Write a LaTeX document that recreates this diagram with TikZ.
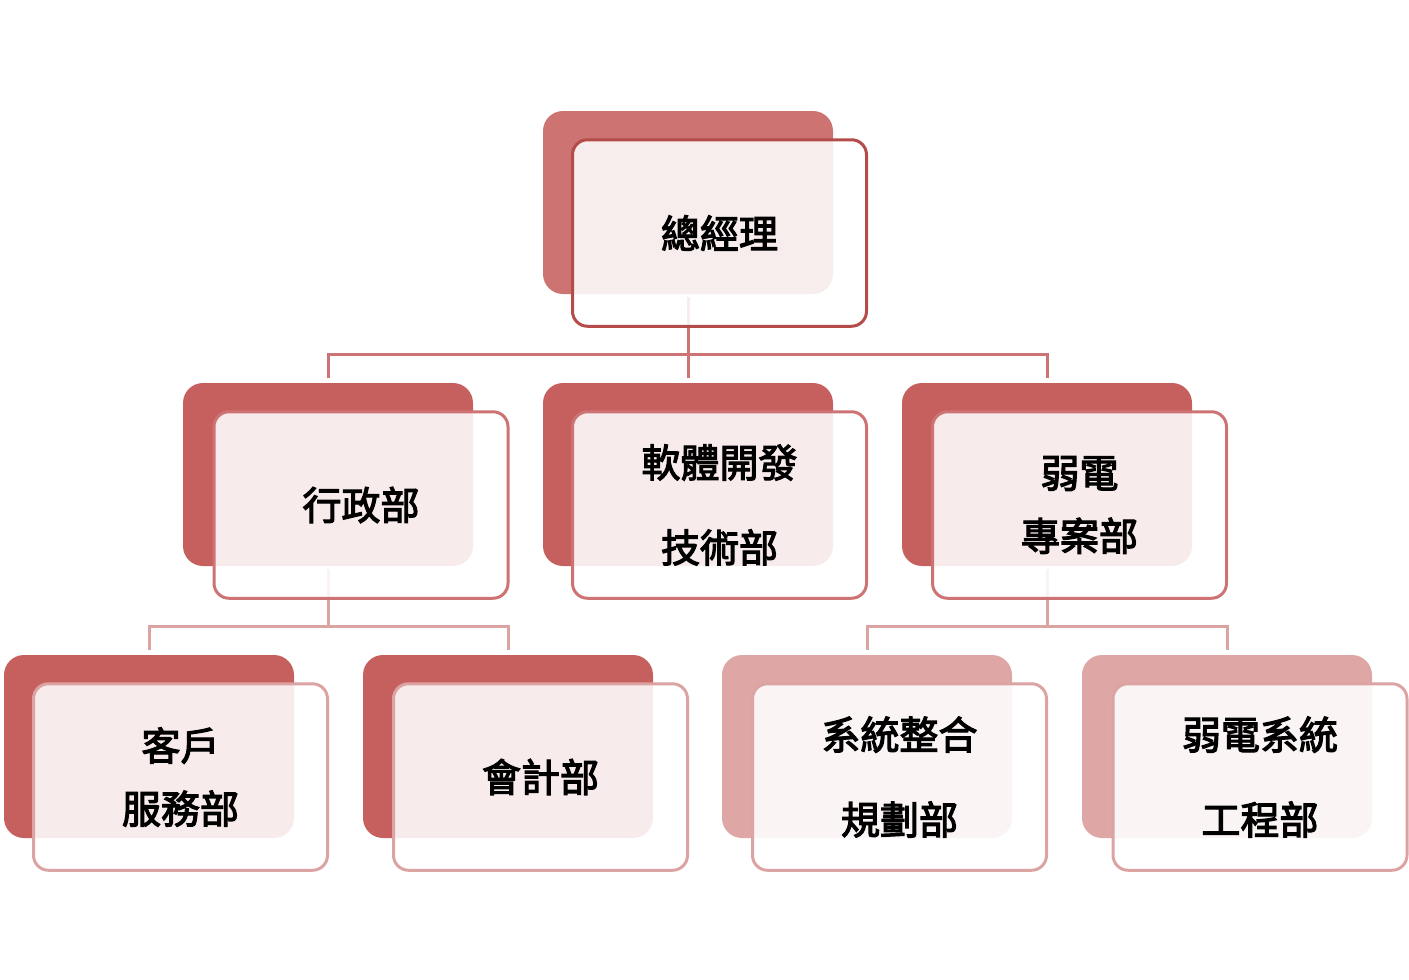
\documentclass[tikz,border=0pt]{standalone}
\usepackage{fontspec}
\newfontfamily\cjk[FakeBold=3]{Noto Sans CJK TC}
\usepackage{xcolor}

\definecolor{topback}{HTML}{CD7371}
\definecolor{topline}{HTML}{B44C4A}
\definecolor{midback}{HTML}{C6605E}
\definecolor{midline}{HTML}{CD7373}
\definecolor{lowback}{HTML}{DFA6A6}
\definecolor{lowline}{HTML}{DCA3A3}

\tikzset{
  backbox/.style={rectangle, rounded corners=10pt, minimum width=145pt, minimum height=91.5pt, inner sep=0pt},
  frontbox/.style={rectangle, rounded corners=7.5pt, line width=1.5pt, fill=white, fill opacity=0.88, text opacity=1,
    minimum width=147pt, minimum height=93.25pt, inner sep=0pt, align=center,
    font=\cjk\fontsize{19.5}{31.5}\selectfont},
  link/.style={line width=1.5pt, shorten <=1.5pt, shorten >=2.5pt},
}

\begin{document}
\begin{tikzpicture}[x=0.5pt, y=-0.5pt]
        \useasboundingbox (0,0) rectangle (1409,980);

        % Back plates
        \node[backbox, fill=topback] (gmB) at (688, 202.5) {};
        \node[backbox, fill=midback] (adB) at (328, 474.5) {};
        \node[backbox, fill=midback] (swB) at (688, 474.5) {};
        \node[backbox, fill=midback] (weB) at (1047, 474.5) {};
        \node[backbox, fill=midback] (csB) at (149, 746.5) {};
        \node[backbox, fill=midback] (acB) at (508, 746.5) {};
        \node[backbox, fill=lowback] (siB) at (867, 746.5) {};
        \node[backbox, fill=lowback] (seB) at (1227, 746.5) {};

        % Connectors
        \draw[link, midline] (gmB.south) -- ++(0,60) -| (adB.north);
        \draw[link, midline] (gmB.south) -- ++(0,60) -| (swB.north);
        \draw[link, midline] (gmB.south) -- ++(0,60) -| (weB.north);
        \draw[link, lowline] (adB.south) -- ++(0,60) -| (csB.north);
        \draw[link, lowline] (adB.south) -- ++(0,60) -| (acB.north);
        \draw[link, lowline] (weB.south) -- ++(0,60) -| (siB.north);
        \draw[link, lowline] (weB.south) -- ++(0,60) -| (seB.north);

        % Front cards with labels
        \node[frontbox, draw=topline] (gm) at (719.5, 233) {總經理};
        \node[frontbox, draw=midline] (ad) at (361, 505) {行政部};
        \node[frontbox, draw=midline] (sw) at (719.5, 505) {軟體開發\\[11pt]技術部};
        \node[frontbox, draw=midline] (we) at (1079.5, 505) {弱電\\專案部};
        \node[frontbox, draw=lowline] (cs) at (180.5, 777) {客戶\\服務部};
        \node[frontbox, draw=lowline] (ac) at (540.5, 777) {會計部};
        \node[frontbox, draw=lowline] (si) at (899.5, 777) {系統整合\\[11pt]規劃部};
        \node[frontbox, draw=lowline] (se) at (1260, 777) {弱電系統\\[11pt]工程部};
\end{tikzpicture}
\end{document}
